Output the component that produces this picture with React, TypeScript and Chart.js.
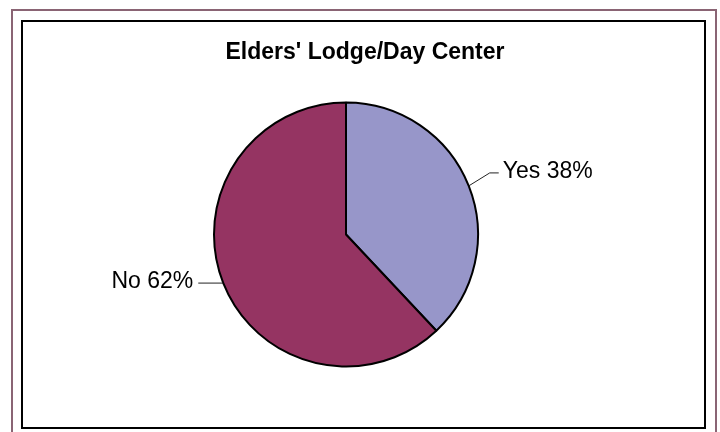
import React, { useEffect, useRef } from "react";
import { Chart, registerables } from "chart.js";

Chart.register(...registerables);

const TITLE = "Elders' Lodge/Day Center";
const CATEGORIES = ["Yes", "No"];
const VALUES = [38, 62];
const COLORS = ["#9796C9", "#953462"];

const FONT = "'Liberation Sans', Arial, sans-serif";

const outsideLabels = {
  id: "outsideLabels",
  afterDatasetsDraw(chart: any, _args: any, opts: any) {
    const ctx = chart.ctx;
    const meta = chart.getDatasetMeta(0);
    ctx.save();
    ctx.font = `23px ${FONT}`;
    ctx.fillStyle = "#000";
    ctx.strokeStyle = "#222";
    ctx.lineWidth = 1;
    meta.data.forEach((arc: any, i: number) => {
      const { x, y, startAngle, endAngle, outerRadius } = arc.getProps(
        ["x", "y", "startAngle", "endAngle", "outerRadius"],
        true
      );
      const mid = (startAngle + endAngle) / 2;
      const ex = x + Math.cos(mid) * outerRadius;
      const ey = y + Math.sin(mid) * outerRadius;
      const s = opts.leaders[i];
      const bx = ex + s.dx;
      const by = ey + s.dy;
      const tx = bx + s.tail;
      ctx.beginPath();
      ctx.moveTo(ex, ey);
      ctx.lineTo(bx, by);
      ctx.lineTo(tx, by);
      ctx.stroke();
      const text = `${chart.data.labels[i]} ${chart.data.datasets[0].data[i]}%`;
      ctx.textBaseline = "alphabetic";
      if (s.tail >= 0) {
        ctx.textAlign = "left";
        ctx.fillText(text, tx + 4, by + 5);
      } else {
        ctx.textAlign = "right";
        ctx.fillText(text, tx - 5, by + 5);
      }
    });
    ctx.restore();
  },
  afterDraw(chart: any, _args: any, opts: any) {
    const ctx = chart.ctx;
    ctx.save();
    ctx.font = `bold 23px ${FONT}`;
    ctx.fillStyle = "#000";
    ctx.textAlign = "center";
    ctx.textBaseline = "alphabetic";
    ctx.fillText(opts.title, opts.titleX, opts.titleY);
    ctx.restore();
  },
};

export default function App() {
  const ref = useRef<HTMLCanvasElement>(null);
  useEffect(() => {
    if (!ref.current) return;
    const chart = new Chart(ref.current, {
      type: "pie",
      data: {
        labels: CATEGORIES,
        datasets: [
          {
            data: VALUES,
            backgroundColor: COLORS,
            borderColor: "#000",
            borderWidth: 2,
          },
        ],
      },
      options: {
        responsive: false,
        animation: false,
        radius: 132,
        layout: { padding: { left: 200, right: 228, top: 88, bottom: 51 } },
        plugins: {
          legend: { display: false },
          tooltip: { enabled: false },
          title: { display: false },
          outsideLabels: {
            title: TITLE,
            titleX: 365,
            titleY: 59,
            leaders: [
              { dx: 21, dy: -13, tail: 9 },
              { dx: 0, dy: 0, tail: -25 },
            ],
          },
        },
      } as any,
      plugins: [outsideLabels],
    });
    return () => chart.destroy();
  }, []);

  return (
    <div
      style={{
        position: "fixed",
        left: 0,
        top: 0,
        width: 720,
        height: 432,
        background: "#fff",
        overflow: "hidden",
      }}
    >
      <div
        style={{
          position: "absolute",
          left: 11,
          top: 9,
          width: 706,
          height: 430,
          boxSizing: "border-box",
          border: "2px solid #8A6474",
        }}
      />
      <div
        style={{
          position: "absolute",
          left: 21,
          top: 20,
          width: 685,
          height: 409,
          boxSizing: "border-box",
          border: "2px solid #000",
        }}
      />
      <canvas
        ref={ref}
        width={720}
        height={432}
        style={{ position: "absolute", left: 0, top: 0, width: 720, height: 432 }}
      />
    </div>
  );
}
